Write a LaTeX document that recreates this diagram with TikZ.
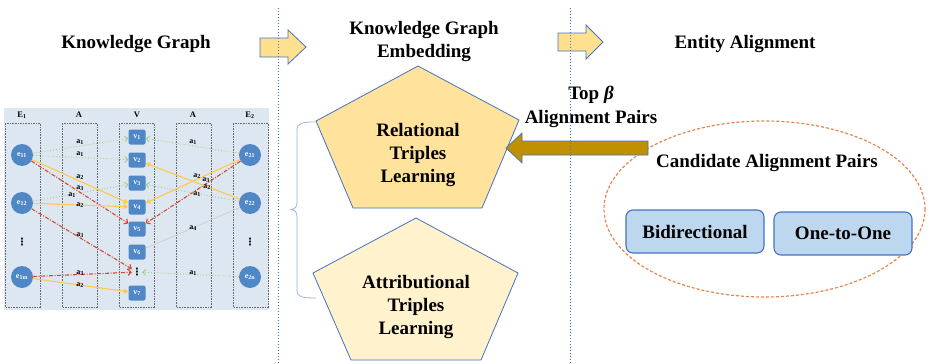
\documentclass[tikz,border=0pt]{standalone}
\usepackage{fontspec}
\setmainfont{Liberation Serif}
\newfontfamily\tnr{Liberation Serif}
\newfontfamily\djv{DejaVu Sans}
\usetikzlibrary{arrows.meta}
\definecolor{kgblue}{HTML}{4472C4}
\definecolor{entblue}{HTML}{4F87C7}
\definecolor{bgblue}{HTML}{DDE7F1}
\definecolor{penta}{HTML}{FFE29C}
\definecolor{pentb}{HTML}{FFF2CC}
\definecolor{arrfill}{HTML}{FFE08F}
\definecolor{goldA}{HTML}{BF9000}
\definecolor{orangeD}{HTML}{E8844A}
\definecolor{boxfill}{HTML}{BDD7EE}
\definecolor{greenL}{HTML}{A3CF8A}
\definecolor{yellowL}{HTML}{FFC94A}
\definecolor{redD}{HTML}{D9462B}
\definecolor{grayL}{HTML}{CFCFCF}
\definecolor{braceC}{HTML}{9DB3D8}
\definecolor{boxgray}{HTML}{6B6B6B}
\begin{document}
\begin{tikzpicture}[x=1pt,y=-1pt,
  title/.style={font=\tnr\bfseries\fontsize{19}{23}\selectfont, align=center, inner sep=0pt},
  blockarrow/.style={fill=arrfill, draw=kgblue, line width=0.8pt, line join=miter},
  sep/.style={draw=kgblue, dotted, line width=1pt},
  colbox/.style={draw=boxgray, dash pattern=on 1.6pt off 1pt, line width=0.7pt},
  hdr/.style={font=\tnr\bfseries\fontsize{8.5}{9}\selectfont, inner sep=0pt},
  ent/.style={circle, fill=entblue, text=white, minimum size=22pt, inner sep=0pt, font=\tnr\bfseries\fontsize{8}{8}\selectfont},
  val/.style={rounded corners=2pt, fill=entblue, text=white, minimum width=17pt, minimum height=15pt, inner sep=0pt, font=\tnr\bfseries\fontsize{8}{8}\selectfont},
  vd/.style={inner sep=0pt, font=\djv\bfseries\fontsize{10}{10}\selectfont},
  lab/.style={inner sep=0pt, font=\tnr\bfseries\fontsize{8}{8}\selectfont},
  gE/.style={draw=greenL, dotted, line width=0.9pt, -{Straight Barb[length=3pt,width=6pt]}},
  yE/.style={draw=yellowL, line width=1.1pt, -{Triangle[length=4.5pt,width=5pt]}},
  rE/.style={draw=redD, dash pattern=on 4pt off 1.5pt on 1pt off 1.5pt, line width=1.1pt, -{Straight Barb[length=3pt,width=6pt]}},
  hE/.style={draw=grayL, line width=0.8pt},
  choice/.style={draw=kgblue, fill=boxfill, line width=1.1pt, rounded corners=7pt, minimum width=138pt, minimum height=43pt, inner sep=0pt, font=\tnr\bfseries\fontsize{19}{23}\selectfont}
]
\useasboundingbox (0,0) rectangle (929,364);

% ---------------- titles ----------------
\node[title] (t1) at (136,44) {Knowledge Graph};
\node[title] (t2) at (424,41.5) {Knowledge Graph\\Embedding};
\node[title] (t3) at (745,44) {Entity Alignment};

% ---------------- block arrows ----------------
\draw[blockarrow] (260,38) -- (288,38) -- (288,30) -- (306,47) -- (288,64) -- (288,57) -- (260,57) -- cycle;
\draw[blockarrow] (558,33) -- (586,33) -- (586,25) -- (603,42) -- (586,59) -- (586,51) -- (558,51) -- cycle;

% ---------------- small knowledge graph figure ----------------
\fill[bgblue] (4,108) rectangle (269,310);
\draw[colbox] (5,123) rectangle (40,307);
\draw[colbox] (62,123) rectangle (97,307);
\draw[colbox] (119,123) rectangle (154,307);
\draw[colbox] (176,123) rectangle (211,307);
\draw[colbox] (233,123) rectangle (268,307);
\node[hdr] (hE1) at (22,115) {E\textsubscript{1}};
\node[hdr] (hA1) at (79,115) {A};
\node[hdr] (hV) at (137,115) {V};
\node[hdr] (hA2) at (193,115) {A};
\node[hdr] (hE2) at (250,115) {E\textsubscript{2}};

\node[ent] (e11) at (22,155) {e\textsubscript{11}};
\node[ent] (e12) at (22,203) {e\textsubscript{12}};
\node[vd]  (d1)  at (22,242) {⋮};
\node[ent] (e1m) at (22,277) {e\textsubscript{1m}};
\node[ent] (e21) at (250,155) {e\textsubscript{21}};
\node[ent] (e22) at (250,203) {e\textsubscript{22}};
\node[vd]  (d2)  at (250,242) {⋮};
\node[ent] (e2n) at (250,277) {e\textsubscript{2n}};

\node[val] (v1) at (137,137) {v\textsubscript{1}};
\node[val] (v2) at (137,160) {v\textsubscript{2}};
\node[val] (v3) at (137,183) {v\textsubscript{3}};
\node[val] (v4) at (137,207) {v\textsubscript{4}};
\node[val] (v5) at (137,229) {v\textsubscript{5}};
\node[val] (v6) at (137,252) {v\textsubscript{6}};
\node[vd]  (vd) at (137,272) {⋮};
\node[val] (v7) at (137,293) {v\textsubscript{7}};

\draw[hE] (e22) -- (v6);
\draw[gE] (e11) -- (v1);
\draw[gE] (e11) -- (v2);
\draw[yE] (e11) -- (v4);
\draw[rE] (e11) -- (v5);
\draw[gE] (e12) -- (v3);
\draw[yE] (e12) -- (v4);
\draw[rE] (e12) -- (vd);
\draw[rE] (e1m) -- (vd);
\draw[yE] (e1m) -- (v7);
\draw[gE] (e21) -- (v1);
\draw[yE] (e21) -- (v4);
\draw[rE] (e21) -- (v5);
\draw[yE] (e22) -- (v2);
\draw[gE] (e22) -- (v3);
\draw[gE] (e2n) -- (vd);

\node[lab] (l1) at (80,142) {a\textsubscript{1}};
\node[lab] (l2) at (80,154) {a\textsubscript{1}};
\node[lab] (l3) at (80,177) {a\textsubscript{2}};
\node[lab] (l4) at (80,188) {a\textsubscript{3}};
\node[lab] (l5) at (72,195) {a\textsubscript{1}};
\node[lab] (l6) at (80,205) {a\textsubscript{2}};
\node[lab] (l7) at (80,235) {a\textsubscript{3}};
\node[lab] (l8) at (80,273) {a\textsubscript{3}};
\node[lab] (l9) at (80,285) {a\textsubscript{2}};
\node[lab] (r1) at (193,142) {a\textsubscript{1}};
\node[lab] (r2) at (197,176) {a\textsubscript{2}};
\node[lab] (r3) at (206,180) {a\textsubscript{3}};
\node[lab] (r4) at (207,187) {a\textsubscript{2}};
\node[lab] (r5) at (197,194) {a\textsubscript{1}};
\node[lab] (r6) at (193,228) {a\textsubscript{4}};
\node[lab] (r7) at (193,273) {a\textsubscript{1}};

% ---------------- brace ----------------
\draw[braceC, line width=0.8pt] (315,122) .. controls (302,122) and (297,123) .. (297,130) -- (297,202)
  .. controls (297,207) and (295,209) .. (291,209.5) .. controls (295,210) and (297,212) .. (297,217)
  -- (297,290) .. controls (297,297) and (302,298) .. (316,298);

% ---------------- pentagons ----------------
\draw[fill=penta, draw=kgblue, line width=0.8pt] (418,66) -- (519,120) -- (482,208) -- (353,208) -- (316,121) -- cycle;
\node[title] (rel) at (418,155) {Relational\\Triples\\Learning};
\draw[fill=pentb, draw=kgblue, line width=0.8pt] (416,218) -- (518,273) -- (481,360) -- (351,360) -- (313,273) -- cycle;
\node[title] (att) at (416,307) {Attributional\\Triples\\Learning};

% ---------------- entity alignment ----------------
\draw[orangeD, dash pattern=on 3pt off 2pt, line width=1.2pt] (764.5,209) ellipse [x radius=160.5, y radius=88];
\node[title] (cand) at (767,163) {Candidate Alignment Pairs};
\node[choice] (bi) at (695,231.5) {Bidirectional};
\node[choice] (oo) at (843,233.5) {One-to-One};

\draw[fill=goldA, draw=kgblue, line width=0.7pt, line join=miter] (648,141) -- (522,141) -- (522,133) -- (506,148) -- (522,163) -- (522,155) -- (648,155) -- cycle;
\node[title] (top) at (591,95) {Top {\itshape β}};
\node[title] (ap) at (591,119) {Alignment Pairs};

% ---------------- separators ----------------
\draw[sep] (278,8) -- (278,364);
\draw[sep] (570,8) -- (570,364);
\end{tikzpicture}
\end{document}
